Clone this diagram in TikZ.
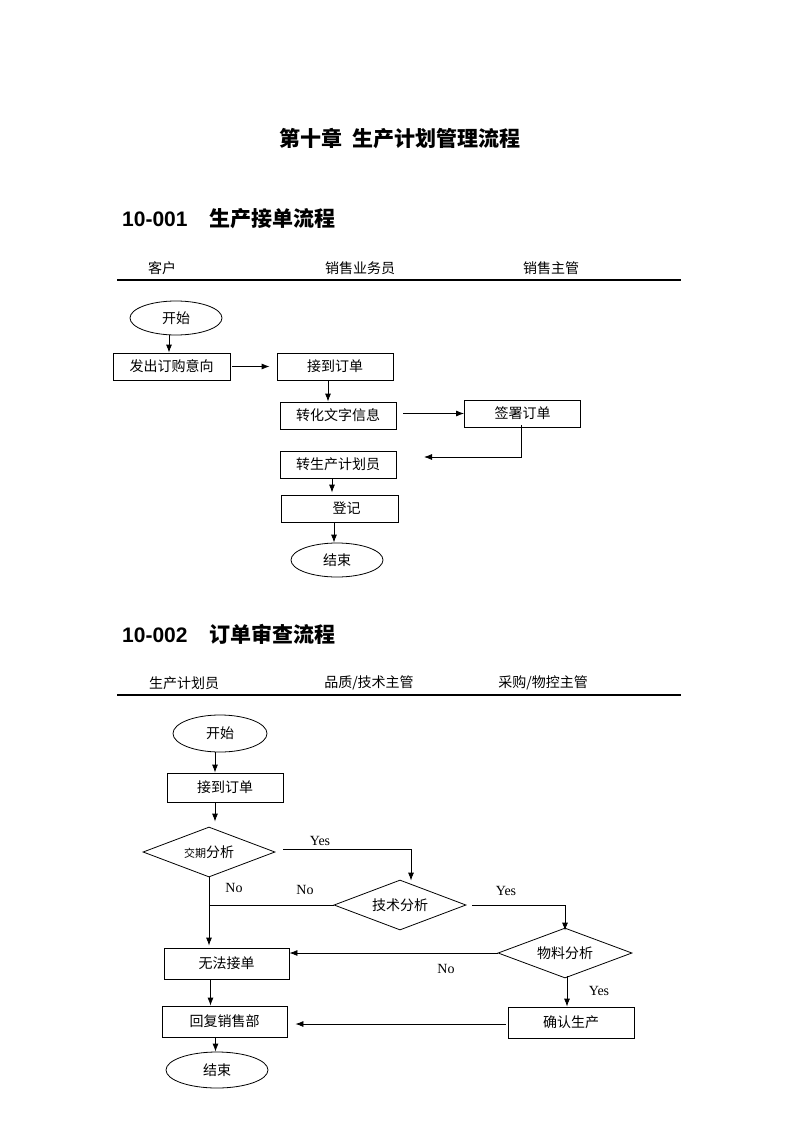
\documentclass[tikz,border=0pt]{standalone}
\usepackage{fontspec}
\setmainfont{Liberation Serif}
\setsansfont{Liberation Sans}
\newfontfamily\cjk{Noto Sans CJK SC}
\usetikzlibrary{shapes.geometric,arrows.meta}

\begin{document}
\begin{tikzpicture}[x=1pt, y=-1pt,
        box/.style={draw, line width=0.8pt, minimum width=116pt, minimum height=27pt, inner sep=0pt, font=\cjk\fontsize{14}{16}\selectfont},
        term/.style={draw, ellipse, line width=0.8pt, minimum width=92pt, minimum height=34pt, inner sep=0pt, font=\cjk\fontsize{14}{16}\selectfont},
        decide/.style={draw, diamond, aspect=2.6, line width=0.8pt, minimum width=132pt, minimum height=50pt, inner sep=0pt, font=\cjk\fontsize{14}{16}\selectfont},
        arr/.style={-{Latex[length=8pt,width=6pt]}, line width=0.8pt},
        lane/.style={font=\cjk\fontsize{14}{16}\selectfont},
        yn/.style={font=\fontsize{14}{16}\selectfont},
        head/.style={anchor=west, inner sep=0pt}]
        \useasboundingbox (0,0) rectangle (800,1132);
        % titles
        \node[font=\cjk\bfseries\fontsize{21}{25}\selectfont] (title) at (400,139) {第十章\hspace{10pt}生产计划管理流程};
        \node[head] (sec1) at (122,219) {{\sffamily\bfseries\fontsize{21}{25}\selectfont 10-001}\hspace{22pt}{\cjk\bfseries\fontsize{21}{25}\selectfont 生产接单流程}};
        \node[head] (sec2) at (122,634) {{\sffamily\bfseries\fontsize{21}{25}\selectfont 10-002}\hspace{22pt}{\cjk\bfseries\fontsize{21}{25}\selectfont 订单审查流程}};

        % 10-001
        \node[lane] (kehu) at (162,268) {客户};
        \node[lane] (yewu) at (360,268) {销售业务员};
        \node[lane] (xszg) at (551,268) {销售主管};
        \coordinate (l1a) at (117,280); \coordinate (l1b) at (681,280);
        \draw[line width=1.2pt] (l1a) -- (l1b);

        \node[term] (start1) at (176,318) {开始};
        \node[box, minimum width=117pt] (fachu) at (171.5,366.5) {发出订购意向};
        \node[box] (jiedao1) at (335,366.5) {接到订单};
        \node[box] (zhuanhua) at (338,415.5) {转化文字信息};
        \node[box] (qianshu) at (522.5,413.5) {签署订单};
        \node[box] (zhuansc) at (338,464.5) {转生产计划员};
        \node[box, minimum width=117pt] (dengji) at (339.5,508.5) {\hspace*{14pt}登记};
        \node[term] (end1) at (337,560) {结束};
        \coordinate (back) at (424,457);

        \draw[arr] ([xshift=-7pt]start1.south) -- ([xshift=-7pt]start1.south |- fachu.north);
        \draw[arr, shorten <=2pt, shorten >=7pt] (fachu.east) -- (jiedao1.west);
        \draw[arr] ([xshift=-7pt]jiedao1.south) -- ([xshift=-7pt]jiedao1.south |- zhuanhua.north);
        \draw[arr, shorten <=7pt] ([yshift=2pt]zhuanhua.east) -- ([yshift=2pt]zhuanhua.east -| qianshu.west);
        \draw[arr] ([xshift=-1.5pt,yshift=2pt]qianshu.south) |- (back);
        \draw[arr, shorten >=2pt] ([xshift=-6pt]zhuansc.south) -- ([xshift=-6pt]zhuansc.south |- dengji.north);
        \draw[arr] ([xshift=-5.5pt]dengji.south) -- ([xshift=-5.5pt]dengji.south |- end1.north);

        % 10-002
        \node[lane] (jihua) at (184,683) {生产计划员};
        \node[lane] (pinzhi) at (369,683) {品质/技术主管};
        \node[lane] (caigou) at (543,683) {采购/物控主管};
        \coordinate (l2a) at (117,695); \coordinate (l2b) at (681,695);
        \draw[line width=1.2pt] (l2a) -- (l2b);

        \node[term, minimum width=94pt, minimum height=37pt] (start2) at (220,733.5) {开始};
        \node[box, minimum height=29pt] (jiedao2) at (225,787.5) {接到订单};
        \node[decide] (jiaoqi) at (209,852) {{\fontsize{11}{13}\selectfont 交期}分析};
        \node[decide] (jishu) at (400,905) {技术分析};
        \node[decide, minimum width=134pt] (wuliao) at (565,953) {物料分析};
        \node[box, minimum width=125pt, minimum height=31pt] (wufa) at (226.5,963.5) {无法接单};
        \node[box, minimum width=126pt, minimum height=31pt] (queren) at (571,1022.5) {确认生产};
        \node[box, minimum width=125pt, minimum height=31pt] (huifu) at (224.5,1021.5) {回复销售部};
        \node[term, minimum width=102pt, minimum height=36pt] (end2) at (217,1070) {结束};

        \draw[arr] ([xshift=-5pt]start2.south) -- ([xshift=-5pt]start2.south |- jiedao2.north);
        \draw[arr, shorten >=5pt] ([xshift=-10pt]jiedao2.south) -- ([xshift=-10pt]jiedao2.south |- jiaoqi.north);
        \draw[arr] ([xshift=8pt,yshift=3pt]jiaoqi.east) -| ([xshift=11pt,yshift=-1pt]jishu.north);
        \draw[arr, shorten >=2pt] (jiaoqi.south) -- (jiaoqi.south |- wufa.north);
        \draw[line width=0.8pt] (jishu.west) -- (jishu.west -| jiaoqi.south);
        \draw[arr] ([xshift=6pt]jishu.east) -| ([yshift=-3pt]wuliao.north);
        \draw[arr] (wuliao.west) -- (wuliao.west -| wufa.east);
        \draw[arr] ([xshift=2pt,yshift=2pt]wuliao.south) -- ([xshift=2pt]wuliao.south |- queren.north);
        \draw[arr, shorten <=2pt, shorten >=8pt] ([yshift=-1.5pt]queren.west) -- ([yshift=-1.5pt]queren.west -| huifu.east);
        \draw[arr] ([xshift=-16pt]wufa.south) -- ([xshift=-16pt]wufa.south |- huifu.north);
        \draw[arr] ([xshift=-9pt]huifu.south) -- ([xshift=-9pt]huifu.south |- end2.north);

        \node[yn] (yes1) at (320,841) {Yes};
        \node[yn] (no1) at (234,888) {No};
        \node[yn] (no2) at (305,890) {No};
        \node[yn] (yes2) at (506,891) {Yes};
        \node[yn] (no3) at (446,969) {No};
        \node[yn] (yes3) at (599,991) {Yes};
      \end{tikzpicture}
\end{document}
